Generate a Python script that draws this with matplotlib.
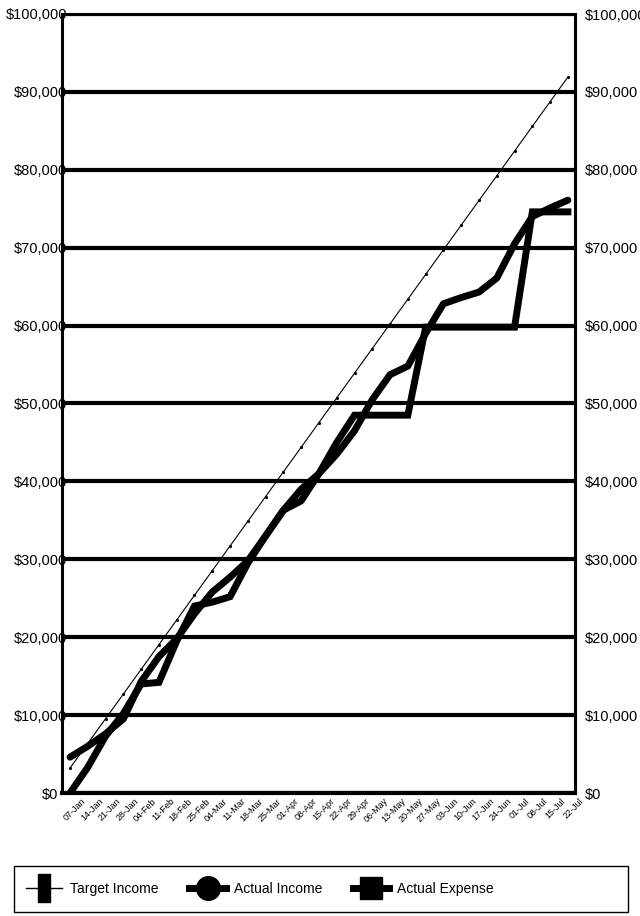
import numpy as np
import matplotlib.pyplot as plt
from matplotlib.lines import Line2D
from matplotlib.patches import Rectangle
from matplotlib.ticker import FuncFormatter
from matplotlib.transforms import ScaledTranslation

weeks = ["07-Jan", "14-Jan", "21-Jan", "28-Jan", "04-Feb", "11-Feb", "18-Feb",
         "25-Feb", "04-Mar", "11-Mar", "18-Mar", "25-Mar", "01-Apr", "08-Apr",
         "15-Apr", "22-Apr", "29-Apr", "06-May", "13-May", "20-May", "27-May",
         "03-Jun", "10-Jun", "17-Jun", "24-Jun", "01-Jul", "08-Jul", "15-Jul",
         "22-Jul"]

target_income = [3200, 6370, 9540, 12700, 15870, 19040, 22210, 25380, 28540,
                 31710, 34880, 38050, 41220, 44380, 47550, 50720, 53890, 57060,
                 60220, 63390, 66560, 69730, 72900, 76060, 79230, 82400, 85570,
                 88740, 91900]

actual_income = [4600, 6000, 7600, 9500, 14300, 17500, 19800, 23000, 25800,
                 27700, 29800, 33000, 36300, 37500, 41000, 43500, 46500, 50500,
                 53700, 54800, 59000, 62800, 63600, 64300, 66100, 70500, 74000,
                 75100, 76100]

actual_expense = [0, 3300, 7300, 10200, 14000, 14200, 19500, 24000, 24500,
                  25200, 29500, 33000, 36300, 39000, 41000, 45000, 48500, 48500,
                  48500, 48500, 59800, 59800, 59800, 59800, 59800, 59800, 74600,
                  74600, 74600]

y_ticks = [0, 10000, 20000, 30000, 40000, 50000, 60000, 70000, 80000, 90000, 100000]

plt.rcParams['font.family'] = ['Liberation Sans', 'DejaVu Sans']

fig = plt.figure(figsize=(6.4, 9.16), dpi=100)
ax = fig.add_axes([62 / 640, 1 - 793 / 916, 513 / 640, 779 / 916])

x = np.arange(len(weeks))
ax.plot(x, target_income, color="black", lw=0.8, marker=".", ms=2.5, zorder=4)
ax.plot(x, actual_income, color="black", lw=5, zorder=5,
        solid_joinstyle="round", solid_capstyle="round")
ax.plot(x, actual_expense, color="black", lw=5, zorder=5,
        solid_joinstyle="miter")

ax.set_xlim(-0.45, 28.4)
ax.set_ylim(0, 100000)

money = FuncFormatter(lambda v, p: "$0" if v == 0 else f"${v:,.0f}")

ax.set_yticks(y_ticks)
ax.yaxis.set_major_formatter(money)
ax.yaxis.grid(True, color="black", lw=3)
ax.set_axisbelow(True)
ax.tick_params(axis="y", length=0, pad=-4, labelsize=10.5)
# the $0 label sits clear of the axis line in the original
zero_lbl = ax.get_yticklabels()[0]
zero_lbl.set_transform(zero_lbl.get_transform()
                       + ScaledTranslation(-9 / 100, 0, fig.dpi_scale_trans))

ax.set_xticks(x)
ax.set_xticklabels(weeks, rotation=45, ha="right", va="center",
                   rotation_mode="anchor", fontsize=6.5)
ax.tick_params(axis="x", length=0, pad=5)
shift = ScaledTranslation(14 / 100, 0, fig.dpi_scale_trans)
for lbl in ax.get_xticklabels():
    lbl.set_transform(lbl.get_transform() + shift)

for side in ["left", "right", "top"]:
    ax.spines[side].set_linewidth(2.2)
ax.spines["bottom"].set_linewidth(3)

ax2 = ax.twinx()
ax2.set_ylim(ax.get_ylim())
ax2.set_yticks(y_ticks)
ax2.yaxis.set_major_formatter(money)
ax2.tick_params(axis="y", length=0, pad=7, labelsize=10.5)
for s in ax2.spines.values():
    s.set_visible(False)

tall = [(-0.4, -1), (0.4, -1), (0.4, 1), (-0.4, 1), (-0.4, -1)]
handles = [
    Line2D([], [], color="black", lw=1, marker=tall, ms=20),
    Line2D([], [], color="black", lw=5, marker="o", ms=17),
    Line2D([], [], color="black", lw=5, marker="s", ms=16),
]
fig.legend(handles, ["Target Income", "Actual Income", "Actual Expense"],
           loc="center left", bbox_to_anchor=(26 / 640, 1 - 889 / 916),
           ncol=3, frameon=False, fontsize=10, handlelength=2.6,
           handletextpad=0.6, columnspacing=2.2, borderpad=0, borderaxespad=0)
fig.add_artist(Rectangle((14 / 640, 1 - 912 / 916), 614 / 640, 46 / 916,
                         transform=fig.transFigure, fill=False, lw=1,
                         ec="black"))

fig.savefig("out.png", dpi=100)
